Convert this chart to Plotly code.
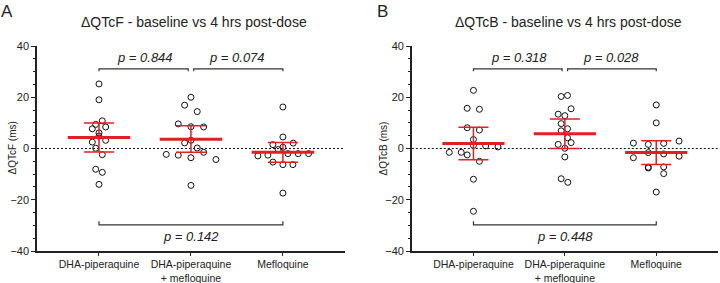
import plotly.graph_objects as go

# ---------------- data ----------------
categories = ["DHA-piperaquine", "DHA-piperaquine<br>+ mefloquine", "Mefloquine"]

# Panel A: ΔQTcF (ms)
qtcf_dha = [25.2, 19.0, 10.8, 9.4, 8.4, 7.7, 6.1, 4.8, 3.2, 2.5, 0.1, -2.4, -8.1, -9.3, -14.0]
qtcf_dha_mef = [20.0, 16.9, 14.4, 9.6, 8.5, 8.4, 3.2, 2.2, 0.2, -1.5, -2.3, -2.6, -3.6, -4.3, -14.4]
qtcf_mef = [16.2, 4.5, 2.1, 1.5, 0.5, -0.4, -2.0, -2.0, -2.0, -2.9, -2.6, -5.3, -6.3, -6.3, -17.4]
qtcf_mean = [4.3, 3.6, -1.5]
qtcf_upper = [10.0, 8.9, 2.3]
qtcf_lower = [-1.4, -1.5, -5.4]

# Panel B: ΔQTcB (ms)
qtcb_dha = [22.7, 15.7, 15.3, 8.1, 7.2, 3.5, 1.2, 1.0, 0.6, -1.5, -1.5, -2.5, -5.0, -12.0, -24.5]
qtcb_dha_mef = [20.3, 20.7, 15.5, 13.4, 12.8, 9.7, 7.7, 6.9, 4.2, 2.3, 1.6, 0.1, -3.3, -11.8, -13.2]
qtcb_mef = [17.0, 10.0, 2.9, 2.1, 1.6, 2.0, -1.6, -2.1, -3.6, -3.0, -7.3, -7.6, -7.2, -9.8, -17.0]
qtcb_mean = [2.0, 5.8, -1.6]
qtcb_upper = [8.3, 11.5, 3.0]
qtcb_lower = [-4.4, 0.0, -6.2]

# scatter-dot horizontal jitter (pixels, as drawn in the original)
jit_a1 = [0, 0, 3.3, -3.3, 6.7, -6.7, 0, 0, 6.7, -6.7, -3.3, 3.3, -3.3, 3.3, 0]
jit_a2 = [0, -6.3, 6.3, -12.7, 0, 12.7, 0, -6.3, 6.3, 12.7, -24.7, -12.7, 0, 25, 0]
jit_a3 = [0, 0, 10.3, -10, 0, -4.7, 5, 15.3, 25.7, -25, -15, -10, 0, 10, 0]
jit_b1 = [0, -6.3, 6, -6.3, 6, 0, 0, 12.3, 24.7, -24.3, -12.3, -6.3, 6, 0, 0]
jit_b2 = [-3.7, 2.7, 6.3, -6.7, 0, -3.7, 2.7, -3.7, 2.7, 6.3, -6.7, 0, 0, -3.7, 3]
jit_b3 = [0, 0, 23, -23, -8, 7.5, -8, 7.5, -23, 23, -8, -8, 7.5, 7.5, 0]

pvals_a = ["p = 0.844", "p = 0.074", "p = 0.142"]
pvals_b = ["p = 0.318", "p = 0.028", "p = 0.448"]

titles = ["ΔQTcF - baseline vs 4 hrs post-dose", "ΔQTcB - baseline vs 4 hrs post-dose"]
ylabels = ["ΔQTcF (ms)", "ΔQTcB (ms)"]
panel_letters = ["A", "B"]

# ---------------- style ----------------
RED = "#e41e25"
DARK = "#222222"
FONT = "Liberation Sans, Arial, sans-serif"
PX_PER_CAT = 92.0
XR = [-0.674, 2.674]

fig = go.Figure()


def add_panel(groups, jitters, means, uppers, lowers, pvals, xa, ya):
    # points
    for i, (vals, jit) in enumerate(zip(groups, jitters)):
        fig.add_trace(go.Scatter(
            x=[i + j / PX_PER_CAT for j in jit], y=vals, mode="markers",
            marker=dict(symbol="circle-open", size=6, color="#111111", line=dict(width=1)),
            xaxis=xa, yaxis=ya, hoverinfo="skip"))
    # zero reference
    fig.add_trace(go.Scatter(x=XR, y=[0, 0], mode="lines",
                             line=dict(color="#111111", width=1, dash="2px,2px"),
                             xaxis=xa, yaxis=ya, hoverinfo="skip"))
    # error bars
    fig.add_trace(go.Scatter(
        x=[0, 1, 2], y=means, mode="markers",
        marker=dict(size=1, color="rgba(0,0,0,0)"),
        error_y=dict(type="data", symmetric=False,
                     array=[u - m for u, m in zip(uppers, means)],
                     arrayminus=[m - l for m, l in zip(means, lowers)],
                     color=RED, thickness=1.5, width=15),
        xaxis=xa, yaxis=ya, hoverinfo="skip"))
    # mean lines
    mx, my = [], []
    for i, m in enumerate(means):
        mx += [i - 0.34, i + 0.34, None]
        my += [m, m, None]
    fig.add_trace(go.Scatter(x=mx, y=my, mode="lines", line=dict(color=RED, width=3),
                             xaxis=xa, yaxis=ya, hoverinfo="skip"))
    # brackets
    bx = [0, 0, 0.97, 0.97, None, 1.03, 1.03, 2, 2, None, 0, 0, 2, 2]
    by = [30.1, 31.1, 31.1, 30.1, None, 30.1, 31.1, 31.1, 30.1, None,
          -28.4, -29.8, -29.8, -28.4]
    fig.add_trace(go.Scatter(x=bx, y=by, mode="lines", line=dict(color="#333333", width=1.2),
                             xaxis=xa, yaxis=ya, hoverinfo="skip"))
    for (px, py), txt in zip([(0.5, 35.6), (1.5, 35.6), (1.0, -34.2)], pvals):
        fig.add_annotation(x=px, y=py, xref=xa, yref=ya, text="<i>%s</i>" % txt,
                           showarrow=False, xanchor="center", yanchor="middle",
                           font=dict(size=13, color="#222222", family=FONT))


add_panel([qtcf_dha, qtcf_dha_mef, qtcf_mef], [jit_a1, jit_a2, jit_a3],
          qtcf_mean, qtcf_upper, qtcf_lower, pvals_a, "x", "y")
add_panel([qtcb_dha, qtcb_dha_mef, qtcb_mef], [jit_b1, jit_b2, jit_b3],
          qtcb_mean, qtcb_upper, qtcb_lower, pvals_b, "x2", "y2")

xcommon = dict(range=XR, tickvals=[0, 1, 2], ticktext=categories, ticks="outside",
               ticklen=3, tickcolor=DARK, tickwidth=1.2, showline=True, linecolor=DARK,
               linewidth=1.5, showgrid=False, zeroline=False, automargin=False,
               tickfont=dict(size=10.5, color="#222222", family=FONT))
ycommon = dict(range=[-40, 40], tickvals=[-40, -20, 0, 20, 40], ticks="outside",
               ticklen=4, tickcolor=DARK, tickwidth=1.2, showline=True, linecolor=DARK,
               linewidth=1.5, showgrid=False, zeroline=False, automargin=False,
               minor=dict(dtick=5, ticks="outside", ticklen=2, tickcolor=DARK, tickwidth=1),
               tickfont=dict(size=11, color="#222222", family=FONT))

fig.update_layout(
    width=720, height=283,
    margin=dict(l=0, r=0, t=46, b=32),
    paper_bgcolor="white", plot_bgcolor="white",
    showlegend=False,
    xaxis=dict(domain=[0.0514, 0.479], anchor="y", **xcommon),
    yaxis=dict(anchor="x", **ycommon),
    xaxis2=dict(domain=[0.572, 0.997], anchor="y2", **xcommon),
    yaxis2=dict(anchor="x2", **ycommon),
)

# titles, panel letters, y labels
for tx, t in zip([194 / 720, 568 / 720], titles):
    fig.add_annotation(x=tx, y=1.117, xref="paper", yref="paper", text=t, showarrow=False,
                       xanchor="center", yanchor="middle",
                       font=dict(size=14, color="#222222", family=FONT))
for lx, l in zip([7 / 720, 382 / 720], panel_letters):
    fig.add_annotation(x=lx, y=1.17, xref="paper", yref="paper", text=l, showarrow=False,
                       xanchor="center", yanchor="middle",
                       font=dict(size=17, color="#222222", family=FONT))
for yx, l in zip([12 / 720, 383 / 720], ylabels):
    fig.add_annotation(x=yx, y=0.5, xref="paper", yref="paper", text=l, showarrow=False,
                       xanchor="center", yanchor="middle", textangle=-90,
                       font=dict(size=10, color="#222222", family=FONT))

fig.write_html("out.html", config={"displayModeBar": False},
               post_script="document.body.style.margin='0';")
